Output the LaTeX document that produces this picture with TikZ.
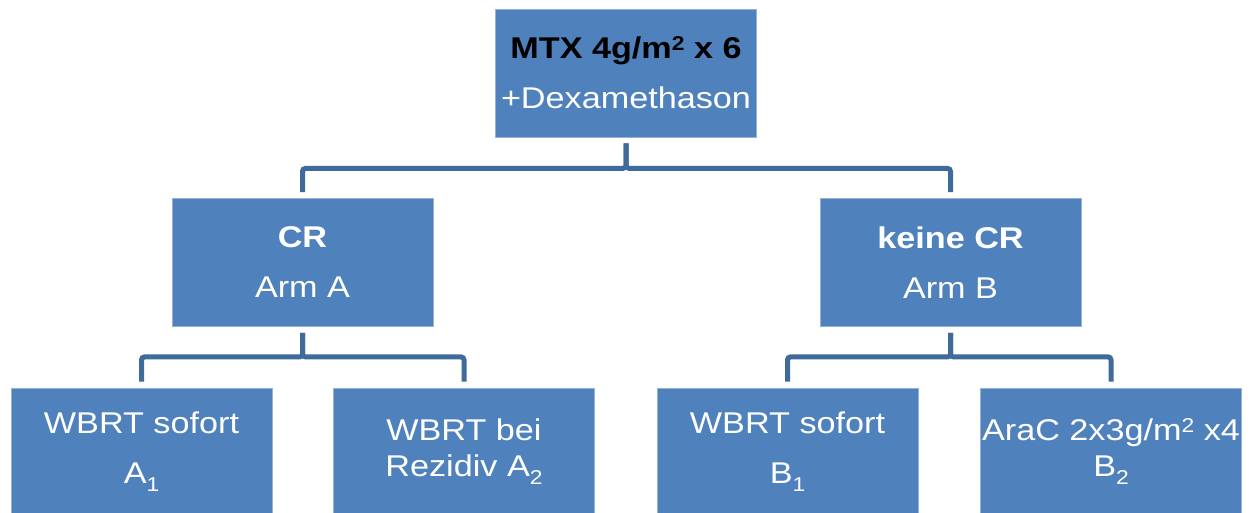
\documentclass[tikz,border=0pt]{standalone}
\usepackage{fontspec}
\setmainfont{Liberation Sans}[FakeStretch=1.14]
\definecolor{boxblue}{HTML}{4F81BD}
\definecolor{linkblue}{HTML}{3E6B9C}
\newcommand\lowidx[1]{\raisebox{-8pt}{\fontsize{20}{20}\selectfont #1}}
\newcommand\highidx[1]{\raisebox{8pt}{\fontsize{20}{20}\selectfont #1}}
\begin{document}
\begin{tikzpicture}[x=1pt,y=-1pt,
  box/.style={fill=boxblue, draw=boxblue!60!white, line width=0.8pt,
    minimum width=261pt, minimum height=128pt, text=white, align=center,
    inner sep=0pt, font=\fontsize{30}{36}\selectfont},
  link/.style={draw=linkblue, line width=5pt, rounded corners=3pt,
    shorten <=6pt, shorten >=6pt}]
\useasboundingbox (0,0) rectangle (1250,513);
\clip (0,0) rectangle (1250,513);
\fill[white] (0,0) rectangle (1250,513);

\node[box] (top) at (626,73) {\textbf{\color{black}MTX 4g/m\highidx{2} x 6}\\[14pt]+Dexamethason};
\node[box] (cr) at (302.5,262.5) {\textbf{CR}\\[14pt]Arm A};
\node[box] (kcr) at (950.5,262.5) {\textbf{keine CR}\\[14pt]Arm B};
\node[box] (a1) at (141.5,452) {WBRT sofort\\[14pt]A\lowidx{1}};
\node[box] (a2) at (464,452) {WBRT bei\\Rezidiv A\lowidx{2}};
\node[box] (b1) at (787.5,452) {WBRT sofort\\[14pt]B\lowidx{1}};
\node[box] (b2) at (1111,452) {AraC 2x3g/m\highidx{2} x4\\B\lowidx{2}};

\draw[link] (top.south) -- ++(0,31) -| (cr.north);
\draw[link] (top.south) -- ++(0,31) -| (kcr.north);
\draw[link] (cr.south) -- ++(0,30) -| (a1.north);
\draw[link] (cr.south) -- ++(0,30) -| (a2.north);
\draw[link] (kcr.south) -- ++(0,30) -| (b1.north);
\draw[link] (kcr.south) -- ++(0,30) -| (b2.north);
\end{tikzpicture}
\end{document}
